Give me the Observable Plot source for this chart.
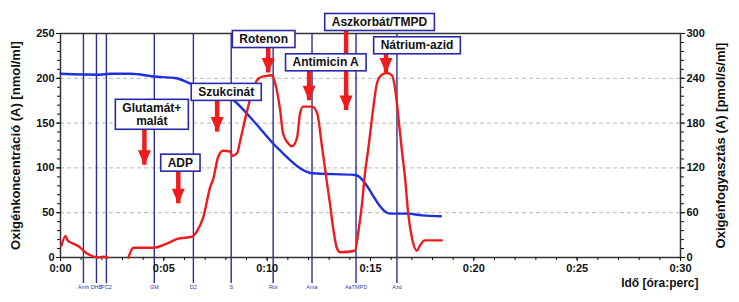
<!DOCTYPE html>
<html><head><meta charset="utf-8">
<script src="https://cdn.jsdelivr.net/npm/d3@7"></script>
<script src="https://cdn.jsdelivr.net/npm/@observablehq/plot@0.6"></script>
<style>body{margin:0;background:#fff}</style>
</head><body><div id="chart"></div>
<script>
// O2 concentration (left axis, nmol/ml) — time in minutes
const blueTime = [0, 1.9, 2.4, 3.4, 4.5, 5.6, 6.2, 8.4, 9.2, 10.3, 10.6, 12.2, 14.25, 15.94, 16.7, 17.5, 18.4];
const blueO2   = [205, 204, 205, 205, 202, 200, 195, 175, 156, 127, 120, 94, 92, 49, 49, 47, 46];

// O2 flux (right axis, pmol/s/ml), two recorded segments
const redTimeA = [0.05, 0.24, 0.34, 0.58, 0.97, 1.11, 1.45, 1.79, 2.08, 2.27];
const redFluxA = [16, 29, 23, 19, 13, 9, 3, 0, 1, 0];
const redTimeB = [3.29, 3.53, 4.49, 5.17, 5.65, 6.38, 6.62, 6.91, 7.25, 7.39, 7.63, 7.87, 8.21, 8.31, 8.55, 8.70, 9.0, 9.35, 9.6, 9.9, 10.24, 10.39, 10.63, 10.77, 11.01, 11.21, 11.45, 11.59, 11.74, 12.17, 12.42, 12.66, 12.90, 13.04, 13.19, 13.38, 13.53, 14.25, 14.40, 14.59, 14.73, 14.88, 15.12, 15.31, 15.56, 15.80, 16.04, 16.18, 16.33, 16.52, 16.67, 16.81, 17.00, 17.25, 17.39, 17.63, 18.45];
const redFluxB = [0, 13, 13, 19, 25, 28, 36, 54, 95, 105, 135, 143, 142, 136, 140, 157, 193, 228, 240, 243, 244, 233, 197, 166, 153, 149, 161, 193, 202, 202, 193, 147, 99, 72, 40, 12, 7, 9, 32, 72, 112, 143, 197, 233, 245, 247, 244, 228, 193, 143, 107, 63, 27, 9, 16, 23, 23];

// event markers
const eventTime  = [1.11, 1.74, 2.22, 4.54, 6.43, 8.26, 10.29, 12.17, 14.30, 16.28];
const eventLabel = ["Amh", "DHB", "PC2", "GM", "D2", "S", "Rot", "Ama", "AaTMPD", "Azd"];

// annotations (level in left-axis units)
const annoText  = ["Glutamát+\nmalát", "ADP", "Szukcinát", "Rotenon", "Antimicin A", "Aszkorbát/TMPD", "Nátrium-azid"];
const annoTime  = [4.42, 5.80, 8.02, 9.83, 12.83, 15.43, 17.25];
const annoLevel = [160, 106, 185, 244, 218, 263, 237];
const arrowTime = [4.06, 5.70, 7.58, 10.05, 12.03, 13.82, 15.75];
const arrowFrom = [144, 95, 175, 234, 208, 254, 228];
const arrowTo   = [103, 60, 140, 206, 175, 164, 206];

// ticks
const xTicks     = [0, 5, 10, 15, 20, 25, 30];
const leftTicks  = [0, 50, 100, 150, 200, 250];
const rightTicks = [0, 60, 120, 180, 240, 300];
const gridLevels = [50, 100, 150, 200];

const leftLabel  = "Oxigénkoncentráció (A) [nmol/ml]";
const rightLabel = "Oxigénfogyasztás (A) [pmol/s/ml]";
const xLabel     = "Idő [óra:perc]";

const toLeft = v => v * 250 / 300;
const fmtTime = m => `${Math.floor(m / 60)}:${String(m % 60).padStart(2, "0")}`;

const blue = blueTime.map((t, i) => ({t, v: blueO2[i]}));
const redA = redTimeA.map((t, i) => ({t, v: toLeft(redFluxA[i])}));
const redB = redTimeB.map((t, i) => ({t, v: toLeft(redFluxB[i])}));
const annos = annoText.map((s, i) => ({s, t: annoTime[i], y: annoLevel[i], at: arrowTime[i], a1: arrowFrom[i], a2: arrowTo[i]}));

const arrowHead = {draw(ctx) { const w = 6.5, h = 15; ctx.moveTo(-w, -h); ctx.lineTo(w, -h); ctx.lineTo(0, 0); ctx.closePath(); }};

const minor = d3.range(0, 251, 10);
const minorX = d3.range(0, 31, 1);
const red = "#ee1c1c";
const navy = "#2c2f8f";

const chart = Plot.plot({
  width: 739, height: 302,
  marginLeft: 60, marginRight: 59, marginTop: 33, marginBottom: 45,
  style: {fontFamily: "'Liberation Sans', Arial, sans-serif", fontWeight: "bold", fontSize: "11px", background: "#fff", overflow: "visible", color: "#111"},
  x: {domain: [0, 30]},
  y: {domain: [0, 250]},
  marks: [
    Plot.ruleY(gridLevels, {stroke: "#b8b8b8", strokeDasharray: "4,3", strokeWidth: 1}),
    Plot.ruleX(eventTime, {stroke: navy, strokeWidth: 1.4, insetBottom: -26}),
    Plot.text(eventLabel, {x: eventTime, frameAnchor: "bottom", dy: 28, lineAnchor: "top", fontSize: 5.5, fontWeight: "normal", fill: "#3a3aa8"}),
    Plot.frame({stroke: "#333", strokeWidth: 1.5}),
    Plot.axisY({anchor: "left", ticks: minor, tickSize: 3, tickFormat: () => "", label: null}),
    Plot.axisY({anchor: "left", ticks: leftTicks, tickSize: 4, tickPadding: 2, label: null, fontSize: 11}),
    Plot.axisY({anchor: "right", ticks: minor, tickSize: 3, tickFormat: () => "", label: null}),
    Plot.axisY({anchor: "right", ticks: rightTicks.map(toLeft), tickFormat: d => Math.round(d * 300 / 250), tickSize: 4, tickPadding: 2, label: null, fontSize: 11}),
    Plot.axisX({ticks: minorX, tickSize: 3, tickFormat: () => "", label: null}),
    Plot.axisX({ticks: xTicks, tickFormat: fmtTime, tickSize: 4, tickPadding: 3, label: null, fontSize: 11}),
    Plot.text([leftLabel], {frameAnchor: "left", rotate: -90, dx: -45, textAnchor: "middle", lineAnchor: "middle", fontSize: 13}),
    Plot.text([rightLabel], {frameAnchor: "right", rotate: -90, dx: 40, textAnchor: "middle", lineAnchor: "middle", fontSize: 13}),
    Plot.text([xLabel], {frameAnchor: "bottom-right", dx: 18, dy: 26, textAnchor: "end", lineAnchor: "middle", fontSize: 12}),
    Plot.line(blue, {x: "t", y: "v", stroke: "#1f2fe0", strokeWidth: 2.4, curve: "monotone-x"}),
    Plot.line(redA, {x: "t", y: "v", stroke: red, strokeWidth: 2.4, curve: "monotone-x"}),
    Plot.line(redB, {x: "t", y: "v", stroke: red, strokeWidth: 2.4, curve: "monotone-x"}),
    Plot.ruleX(annos, {x: "at", y1: "a1", y2: "a2", stroke: red, strokeWidth: 4.5}),
    Plot.dot(annos, {x: "at", y: "a2", symbol: arrowHead, fill: red, stroke: null, r: 6}),
    Plot.text(annos, {x: "t", y: "y", text: "s", fontSize: 12, fontWeight: "bold", fill: "#111", lineHeight: 1.08, className: "anno"})
  ]
});
document.getElementById("chart").appendChild(chart);

// white boxes with blue border behind annotation labels
chart.querySelectorAll(".anno text").forEach(t => {
  const bb = t.getBBox();
  const r = document.createElementNS("http://www.w3.org/2000/svg", "rect");
  const tr = t.getAttribute("transform");
  if (tr) r.setAttribute("transform", tr);
  r.setAttribute("x", bb.x - 7);
  r.setAttribute("y", bb.y - 1.5);
  r.setAttribute("width", bb.width + 14);
  r.setAttribute("height", bb.height + 3);
  r.setAttribute("fill", "#fff");
  r.setAttribute("stroke", "#2a2aa8");
  r.setAttribute("stroke-width", 1.6);
  t.parentNode.insertBefore(r, t);
});
</script>
</body></html>
